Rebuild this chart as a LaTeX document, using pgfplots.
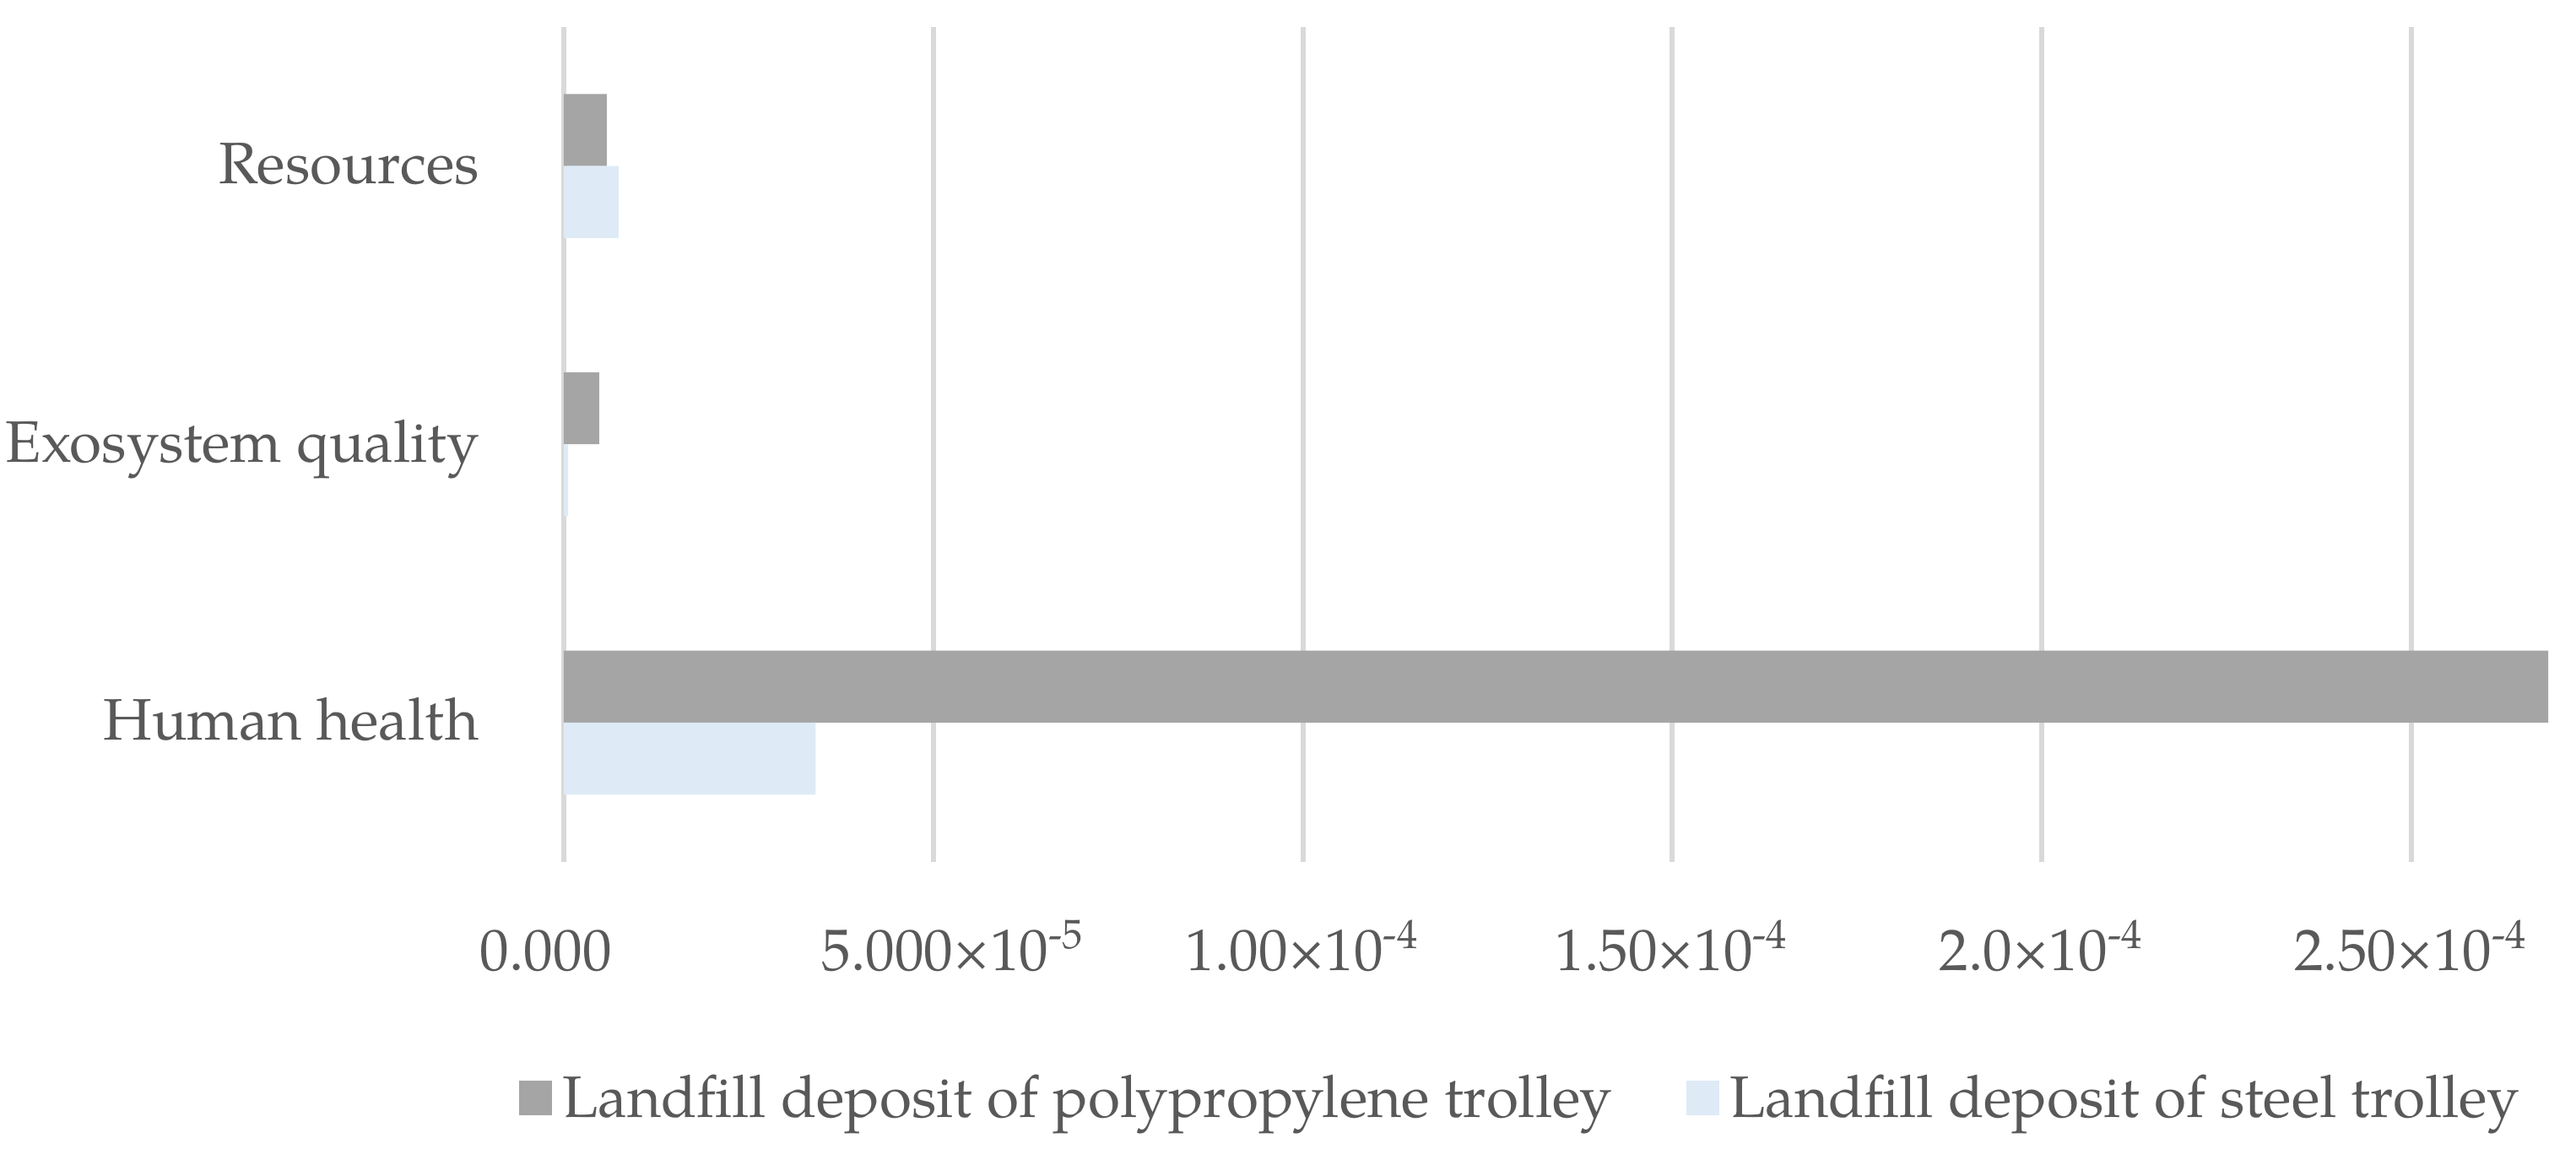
\documentclass[border=0pt]{standalone}
\usepackage{fontspec}
\setmainfont{texgyrepagella-regular.otf}
\usepackage{pgfplots}
\pgfplotsset{compat=1.18}
\definecolor{cPP}{HTML}{A5A5A5}
\definecolor{cST}{HTML}{DEEBF7}
\definecolor{cGrid}{HTML}{D9D9D9}
\definecolor{cTxt}{HTML}{595959}
\newcommand{\fs}{\fontsize{11.55}{13.5}\selectfont}

\begin{document}
\fs
\begin{tikzpicture}
\path[use as bounding box] (-111.3pt,-58.8pt) rectangle (397.3pt,170.1pt);
\begin{axis}[
  xbar, scale only axis, width=391.8pt, height=164.8pt,
  xmin=0, xmax=2.685e-4, ymin=-0.5, ymax=2.5,
  axis line style={draw=none}, tick style={draw=none},
  xmajorgrids, grid style={cGrid, line width=1pt},
  xtick={0,5e-5,1e-4,1.5e-4,2e-4,2.5e-4},
  % Excel nudges the first two labels off their gridlines
  xticklabels={0.000\hspace*{7pt}, \hspace*{8pt}5.000×10\textsuperscript{-5}, 1.00×10\textsuperscript{-4},
    1.50×10\textsuperscript{-4}, 2.0×10\textsuperscript{-4}, 2.50×10\textsuperscript{-4}},
  scaled x ticks=false,
  ytick={0,1,2},
  yticklabels={Human health, Exosystem quality, Resources},
  xticklabel style={anchor=base, inner sep=0pt, yshift=-21.5pt},
  yticklabel style={anchor=base east, inner sep=0pt, xshift=-12.2pt, yshift=-3.5pt},
  ticklabel style={font=\fs, text=cTxt},
  bar width=14.2pt,
  clip=false,
  legend columns=2,
  legend style={draw=none, fill=none, inner sep=0pt, outer sep=0pt,
    at={(0,0)}, anchor=west, xshift=-8.8pt, yshift=-47.2pt,
    font=\fs, text=cTxt,
    /tikz/every even column/.append style={column sep=12.7pt}},
  legend image code/.code={\fill[#1] (0pt,-2.8pt) rectangle (6.5pt,4pt);},
]
\addplot[fill=cPP, draw=none, bar shift=7.1pt] coordinates {(2.685e-4,0) (4.8e-6,1) (5.83e-6,2)};
\addlegendentry{Landfill deposit of polypropylene trolley}
\addplot[fill=cST, draw=none, bar shift=-7.1pt] coordinates {(3.41e-5,0) (0.6e-6,1) (7.43e-6,2)};
\addlegendentry{Landfill deposit of steel trolley}
\end{axis}
\end{tikzpicture}
\end{document}
